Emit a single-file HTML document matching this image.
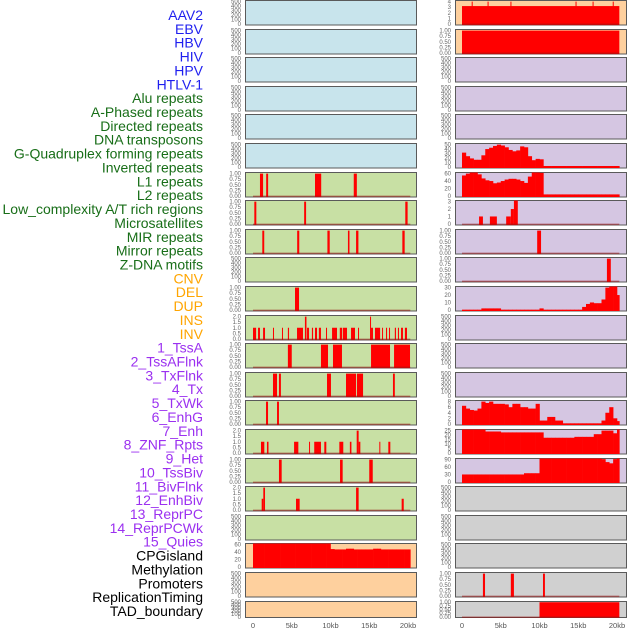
<!DOCTYPE html>
<html><head><meta charset="utf-8"><style>
html,body{margin:0;padding:0;background:#fff;}
svg{display:block;font-family:"Liberation Sans",sans-serif;}
</style></head><body>
<svg id="chart" width="630" height="630" viewBox="0 0 630 630" xmlns="http://www.w3.org/2000/svg"></svg>
<script>
// ---- labels ----
const labels = ["AAV2","EBV","HBV","HIV","HPV","HTLV-1","Alu repeats","A-Phased repeats","Directed repeats","DNA transposons","G-Quadruplex forming repeats","Inverted repeats","L1 repeats","L2 repeats","Low_complexity A/T rich regions","Microsatellites","MIR repeats","Mirror repeats","Z-DNA motifs","CNV","DEL","DUP","INS","INV","1_TssA","2_TssAFlnk","3_TxFlnk","4_Tx","5_TxWk","6_EnhG","7_Enh","8_ZNF_Rpts","9_Het","10_TssBiv","11_BivFlnk","12_EnhBiv","13_ReprPC","14_ReprPCWk","15_Quies","CPGisland","Methylation","Promoters","ReplicationTiming","TAD_boundary"];
const labelGroups = [6,13,5,15,5];
const groupColors = ["#1f1fef","#186e18","#ffa500","#9b30f0","#000000"];
const xTicks = [0,5,10,15,20];
const xTickLabels = ["0","5kb","10kb","15kb","20kb"];

// ---- bar data [startKb, endKb, height] ----
const L6 = [[0.9,1.3,1],[1.7,1.95,1],[8.0,8.8,1],[13.0,13.4,1]];
const L7 = [[0.17,0.43,1],[6.6,6.85,1],[19.65,19.95,1]];
const L8 = [[1.2,1.45,1],[5.7,5.97,1],[9.6,9.9,1],[12.25,12.45,1],[13.3,13.6,1],[19.27,19.57,1]];
const L10 = [[5.42,5.94,1]];
const L11 = [[0,0.4,1],[0.65,0.9,1],[1.3,1.55,1],[2.58,2.7,1],[3.74,3.87,1],[4.5,4.65,1],[5.68,6.45,1],[6.7,6.9,2],[6.97,7.23,1],[7.6,7.75,1],[8.0,8.26,1],[8.5,8.77,1],[9.42,9.55,1],[10.2,10.84,1],[11.2,11.5,1],[11.6,12.13,1],[12.65,13.16,1],[13.55,13.68,1],[15.1,15.23,2],[15.23,15.48,1],[15.74,16.4,1],[16.65,16.77,1],[17.16,17.3,1],[17.55,17.68,1],[18.3,18.45,1],[18.7,18.84,1],[19.1,19.35,1],[19.6,19.87,1]];
const L12 = [[4.5,5.0,1],[8.77,9.68,1],[10.32,11.48,1],[15.23,17.68,1],[18.2,20.26,1]];
const L13 = [[2.58,3.1,1],[3.35,3.6,1],[9.55,10.06,1],[12.0,13.3,1],[13.42,14.2,1],[18.06,18.3,1]];
const L14 = [[1.68,1.94,1],[3.1,3.35,1]];
const L15 = [[1.03,1.46,1],[1.8,2.0,1],[5.3,5.85,1],[7.23,7.35,1],[7.9,8.77,1],[9.2,9.46,1],[11.14,11.65,1],[12.5,12.7,1],[13.38,13.63,2],[13.63,13.85,1],[16.3,16.43,1],[17.46,17.72,1]];
const L16 = [[3.35,3.7,1],[11.23,11.57,1],[15.0,15.45,1]];
const L17 = [[1.12,1.33,1],[1.33,1.55,2],[5.55,6.02,1],[13.3,13.63,2],[19.18,19.45,1]];
const R0 = [[0,20.3,3.2],[1.25,1.35,4],[3.3,3.4,4],[6.25,6.35,4],[14.65,14.75,4],[16.85,16.95,4],[19.45,19.55,4]];
const R1 = [[0,20.3,1]];
const R7 = [[2.2,2.7,1],[3.6,4.5,1],[5.7,6.3,1],[6.3,6.7,2],[6.7,7.2,3.3]];
const R8 = [[9.7,10.2,1]];
const R9 = [[18.7,19.2,1]];
const R17 = [[2.7,2.97,1],[6.3,6.7,1],[10.45,10.7,1]];
const R18 = [[10.0,20.3,1]];

// ---- area data: one value per 0.5kb bin ----
const L19 = [63,63,63,63,63,63,63,63,63,63,63,63,63,63,63,63,63,63,63,63,48,47,47,47,49,49,47,47,47,47,47,49,49,47,47,47,47,47,47,47,47];
const R5 = [32,24,19,16,16,26,40,43,47,50,48,44,38,35,37,46,44,24,15,18,17,2,2,2,2,2,2,2,2,2,2,2,2,2,2,2,2,2,2,2,2];
const R6 = [55,60,64,64,58,47,42,40,34,36,40,44,46,46,44,40,35,52,64,64,62,4,4,4,4,4,4,4,4,4,4,4,4,4,4,4,4,4,4,4,4];
const R10 = [0.3,0.3,0.3,0.3,0.3,2,2,2,2,2,0.3,0.3,0.3,0.3,0.3,0.3,0.3,0.3,0.3,0.3,2,0.3,0.3,0.3,0.3,0.3,0.3,0.3,0.3,0.3,0.3,4,8,10,9,9,14,30,38,36,20];
const R11 = [6.5,5.5,5,4.8,5.5,8,7.5,8,7.2,7.2,7.2,7,6,7.2,7.2,6,6,5.5,5.5,7.2,1.2,1.2,2.5,2.5,1.2,1.2,0.2,0.2,0.2,0.2,0.2,0.2,0.2,0.2,0.2,0.2,1.2,4,6,2,1];
const R12 = [27,27,27,27,27,27,24,24,24,24,23,23,23,23,23,23,23,23,23,23,23,17,17,17,17,17,17,17,17,18,18,18,18,18,21,21,25,25,25,22,27];
const R13 = [30,30,30,30,30,30,30,30,30,30,30,30,30,30,30,30,35,35,35,35,100,100,100,100,100,100,100,100,100,100,100,100,96,96,96,96,92,80,75,92,96];

// ---- tick sets ----
const T500 = [0,100,200,300,400,500];
const T1 = [0,0.25,0.5,0.75,1];
const T2 = [0,0.5,1,1.5,2];

const BLUE="#c8e4ec",GREEN="#c8e0a4",ORANGE="#fed09e",PURPLE="#d5c6e2",GRAY="#d0d0d0";
const panels = [];
for(let r=0;r<6;r++) panels.push(["L",r,BLUE,T500,0,null,null]);
const leftGreen = {6:[T1,2,L6],7:[T1,2,L7],8:[T1,2,L8],10:[T1,2,L10],11:[T2,1,L11],12:[T1,2,L12],13:[T1,2,L13],14:[T1,2,L14],15:[T2,1,L15],16:[T1,2,L16],17:[T2,1,L17]};
for(let r=6;r<19;r++){ const s=leftGreen[r]; panels.push(s?["L",r,GREEN,s[0],s[1],"bars",s[2]]:["L",r,GREEN,T500,0,null,null]); }
panels.push(["L",19,ORANGE,[0,20,40,60],0,"area",L19]);
panels.push(["L",20,ORANGE,T500,0,null,null]);
panels.push(["L",21,ORANGE,T500,0,null,null]);
panels.push(["R",0,ORANGE,[0,1,2,3,4],0,"bars",R0]);
panels.push(["R",1,ORANGE,T1,2,"bars",R1]);
for(let r=2;r<5;r++) panels.push(["R",r,PURPLE,T500,0,null,null]);
panels.push(["R",5,PURPLE,[0,10,20,30,40,50],0,"area",R5]);
panels.push(["R",6,PURPLE,[0,20,40,60],0,"area",R6]);
panels.push(["R",7,PURPLE,[0,1,2,3],0,"bars",R7]);
panels.push(["R",8,PURPLE,T1,2,"bars",R8]);
panels.push(["R",9,PURPLE,T1,2,"bars",R9]);
panels.push(["R",10,PURPLE,[0,10,20,30],0,"area",R10]);
for(let r=11;r<14;r++) panels.push(["R",r,PURPLE,T500,0,null,null]);
panels.push(["R",14,PURPLE,[0,2,4,6,8],0,"area",R11]);
panels.push(["R",15,PURPLE,[0,5,10,15,20,25],0,"area",R12]);
panels.push(["R",16,PURPLE,[0,30,60,90],0,"area",R13]);
panels.push(["R",17,GRAY,T500,0,null,null]);
panels.push(["R",18,GRAY,T500,0,null,null]);
panels.push(["R",19,GRAY,T500,0,null,null]);
panels.push(["R",20,GRAY,T1,2,"bars",R17]);
panels.push(["R",21,GRAY,T1,2,"bars",R18]);

const NS="http://www.w3.org/2000/svg";
const svg=document.getElementById("chart");
function mk(tag,attrs,parent){const e=document.createElementNS(NS,tag);for(const k in attrs)e.setAttribute(k,attrs[k]);(parent||svg).appendChild(e);return e;}

const pitch=(611-15)/(labels.length-1);
let gi=0,cnt=0;
labels.forEach((t,i)=>{
  while(cnt>=labelGroups[gi]){cnt-=labelGroups[gi];gi++;}
  const e=mk("text",{x:203,y:15+i*pitch+5,"text-anchor":"end","font-size":"14",fill:groupColors[gi]});
  e.textContent=t;
  
  
  cnt++;
});

const PW=171;
function xScale(side){const zero=side==="L"?253:462;return kb=>zero+kb*7.75;}
function rowTop(r){return Math.round(r*28.6);}
panels.forEach(p=>{
  const [side,r,bg,ticks,dec,type,data]=p;
  const left=side==="L"?245:455;
  const top=rowTop(r)+0.5, h=(r===21?16:24.5);
  const g=mk("g",{});
  
  
  mk("rect",{x:left+0.5,y:top,width:PW,height:h,fill:bg,stroke:"#5a5a5a","stroke-width":1},g);
  const T=ticks[ticks.length-1];
  const y0=-0.05*T,y1=1.05*T;
  const ys=v=>top+h-(Math.min(v,y1)-y0)/(y1-y0)*h;
  const xs=xScale(side);
  ticks.forEach(t=>{
    const tx=mk("text",{x:left-4,y:ys(t)+2,"text-anchor":"end","font-size":"6",fill:"#666"},g);
    tx.textContent=dec?t.toFixed(dec):String(t);
    
    
  });
  if(type==="bars"){
    data.forEach(b=>{
      const rc=mk("rect",{x:xs(b[0]),y:ys(b[2]),width:Math.max(1,xs(b[1])-xs(b[0])),height:ys(0)-ys(b[2])+(h*0.05),fill:"#ff0000"},g);
      
      
    });
    const ln=mk("line",{x1:xs(0),x2:xs(20.3),y1:ys(0)+0.5,y2:ys(0)+0.5,stroke:"rgba(150,20,20,0.55)","stroke-width":1.5},g);
    
    
  } else if(type==="area"){
    data.forEach((v,i)=>{
      const a=i*0.5,b=Math.min(20.3,i*0.5+0.5);
      const rc=mk("rect",{x:xs(a),y:ys(v),width:xs(b)-xs(a)+0.3,height:top+h-ys(v),fill:"#ff0000"},g);
      
      
    });
  }
});

["L","R"].forEach(side=>{
  const xs=xScale(side);
  xTicks.forEach((t,i)=>{
    const e=mk("text",{x:xs(t),y:628,"text-anchor":"middle","font-size":"7.5",fill:"#555"});
    e.textContent=xTickLabels[i];
    
    
  });
});
</script>
</body></html>
